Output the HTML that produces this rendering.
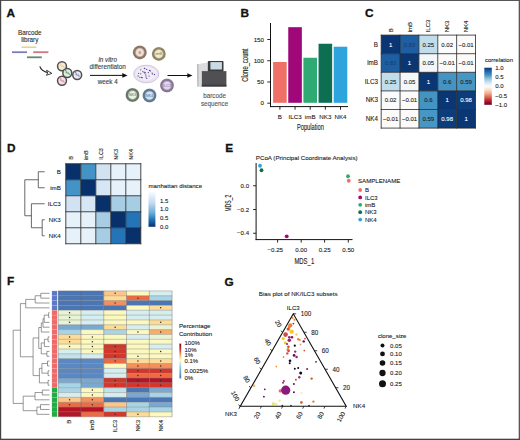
<!DOCTYPE html>
<html><head><meta charset="utf-8"><style>
html,body{margin:0;padding:0;background:#fff;}
svg{display:block;}
text{font-family:"Liberation Sans", sans-serif;}
</style></head><body>
<svg width="520" height="440" viewBox="0 0 520 440">
<rect x="0" y="0" width="520" height="1" fill="#555"/>
<rect x="0" y="0" width="1.2" height="440" fill="#444"/>
<rect x="518.7" y="0" width="1.3" height="440" fill="#555"/>
<rect x="0" y="438.7" width="520" height="1.3" fill="#444"/>
<text x="6.6" y="16.6" font-size="11.8" text-anchor="start" fill="#111" font-weight="bold" stroke="#111" stroke-width="0.3">A</text>
<text x="240.6" y="16.8" font-size="11.8" text-anchor="start" fill="#111" font-weight="bold" stroke="#111" stroke-width="0.3">B</text>
<text x="364.9" y="16.5" font-size="11.8" text-anchor="start" fill="#111" font-weight="bold" stroke="#111" stroke-width="0.3">C</text>
<text x="7.1" y="152.3" font-size="11.8" text-anchor="start" fill="#111" font-weight="bold" stroke="#111" stroke-width="0.3">D</text>
<text x="225.2" y="151.6" font-size="11.8" text-anchor="start" fill="#111" font-weight="bold" stroke="#111" stroke-width="0.3">E</text>
<text x="6.9" y="284.6" font-size="11.8" text-anchor="start" fill="#111" font-weight="bold" stroke="#111" stroke-width="0.3">F</text>
<text x="224.6" y="285.6" font-size="11.8" text-anchor="start" fill="#111" font-weight="bold" stroke="#111" stroke-width="0.3">G</text>
<text x="29.8" y="34.5" font-size="6.3" text-anchor="middle" fill="#2a2a2a" stroke="#2a2a2a" stroke-width="0.1">Barcode</text>
<text x="29.8" y="41.9" font-size="6.3" text-anchor="middle" fill="#2a2a2a" stroke="#2a2a2a" stroke-width="0.1">library</text>
<line x1="21.5" y1="47.2" x2="36.3" y2="47.2" stroke="#E6CF7E" stroke-width="1.4"/>
<line x1="12" y1="52.2" x2="27" y2="52.2" stroke="#7B7FB5" stroke-width="1.8"/>
<line x1="33.2" y1="52.2" x2="48.4" y2="52.2" stroke="#D4737E" stroke-width="1.8"/>
<line x1="27" y1="57.3" x2="41.8" y2="57.3" stroke="#5F8A6C" stroke-width="1.8"/>
<path d="M39.8 66.3 C40.8 69.6 43.2 71.6 48.2 72.6" fill="none" stroke="#222" stroke-width="1.15"/>
<path d="M46.6 70.2 L51.9 73.4 L46.4 75.3 L47.6 73.0 Z" fill="#f4f4f4" stroke="#222" stroke-width="0.85" stroke-linejoin="round"/>
<circle cx="62" cy="66.2" r="4.45" fill="#F4EBD2" stroke="#4f4f4f" stroke-width="1.5"/><path d="M59.6 63.6 c0.8 -0.6 1.6 0.4 1.3 1.4 s0.6 1.8 1.6 1.2 s1.4 0.8 1.6 1.8" fill="none" stroke="#E2C266" stroke-width="0.75"/>
<circle cx="62" cy="80.8" r="4.45" fill="#F5E0E4" stroke="#4f4f4f" stroke-width="1.5"/><path d="M59.6 78.2 c0.8 -0.6 1.6 0.4 1.3 1.4 s0.6 1.8 1.6 1.2 s1.4 0.8 1.6 1.8" fill="none" stroke="#C85A6E" stroke-width="0.75"/>
<circle cx="77.2" cy="75" r="4.45" fill="#E8E9F5" stroke="#4f4f4f" stroke-width="1.5"/><path d="M74.8 72.4 c0.8 -0.6 1.6 0.4 1.3 1.4 s0.6 1.8 1.6 1.2 s1.4 0.8 1.6 1.8" fill="none" stroke="#4a4f88" stroke-width="0.75"/>
<circle cx="67.3" cy="73" r="4.45" fill="#DCEEDF" stroke="#4f4f4f" stroke-width="1.5"/><path d="M64.9 70.4 c0.8 -0.6 1.6 0.4 1.3 1.4 s0.6 1.8 1.6 1.2 s1.4 0.8 1.6 1.8" fill="none" stroke="#2f5a40" stroke-width="0.75"/>
<text x="107.7" y="62" font-size="6.3" text-anchor="middle" fill="#3a3a3a" stroke="#3a3a3a" stroke-width="0.1" font-style="italic">in vitro</text>
<text x="107.7" y="69.3" font-size="6.3" text-anchor="middle" fill="#3a3a3a" stroke="#3a3a3a" stroke-width="0.1">differentiaton</text>
<line x1="90" y1="75.4" x2="124" y2="75.4" stroke="#111" stroke-width="1"/>
<path d="M127.5 75.4 L122.3 73.1 L122.3 77.7 Z" fill="#111"/>
<text x="107.7" y="83.6" font-size="6.3" text-anchor="middle" fill="#3a3a3a" stroke="#3a3a3a" stroke-width="0.1">week 4</text>
<ellipse cx="146.3" cy="74" rx="12.6" ry="8.8" fill="#E9E3F1" stroke="#CFC6DE" stroke-width="1"/>
<ellipse cx="146.3" cy="73.6" rx="10.5" ry="7" fill="#F1EDF7" />
<circle cx="146.8" cy="78.4" r="0.65" fill="#5a4a92"/>
<circle cx="141.5" cy="77.4" r="0.65" fill="#5a4a92"/>
<circle cx="144.7" cy="72.9" r="0.65" fill="#5a4a92"/>
<circle cx="154.5" cy="74.5" r="0.65" fill="#5a4a92"/>
<circle cx="146.0" cy="76.9" r="0.65" fill="#5a4a92"/>
<circle cx="152.5" cy="73.9" r="0.65" fill="#5a4a92"/>
<circle cx="149.5" cy="70.5" r="0.65" fill="#5a4a92"/>
<circle cx="144.1" cy="72.2" r="0.65" fill="#5a4a92"/>
<circle cx="140.7" cy="69.8" r="0.65" fill="#5a4a92"/>
<circle cx="138.6" cy="73.3" r="0.65" fill="#5a4a92"/>
<circle cx="145.2" cy="72.7" r="0.65" fill="#5a4a92"/>
<circle cx="146.7" cy="69.4" r="0.65" fill="#5a4a92"/>
<circle cx="145.8" cy="75.0" r="0.65" fill="#5a4a92"/>
<circle cx="150.4" cy="70.9" r="0.65" fill="#5a4a92"/>
<circle cx="144.7" cy="68.5" r="0.65" fill="#5a4a92"/>
<circle cx="144.4" cy="68.4" r="0.65" fill="#5a4a92"/>
<circle cx="139.9" cy="77.3" r="0.65" fill="#5a4a92"/>
<circle cx="138.1" cy="76.0" r="0.65" fill="#5a4a92"/>
<circle cx="148.3" cy="72.7" r="0.65" fill="#5a4a92"/>
<circle cx="149.1" cy="76.1" r="0.65" fill="#5a4a92"/>
<circle cx="152.1" cy="73.1" r="0.65" fill="#5a4a92"/>
<circle cx="142.8" cy="71.6" r="0.65" fill="#5a4a92"/>
<circle cx="140.7" cy="73.8" r="0.65" fill="#5a4a92"/>
<circle cx="142.2" cy="77.7" r="0.65" fill="#5a4a92"/>
<radialGradient id="g1"><stop offset="0" stop-color="#F2DDD2"/><stop offset="0.5" stop-color="#F2DDD2"/><stop offset="0.72" stop-color="#8a7668"/><stop offset="0.9" stop-color="#8a7668"/><stop offset="1" stop-color="#8a7668" stop-opacity="0.7"/></radialGradient><circle cx="139.8" cy="52.4" r="7.0" fill="url(#g1)"/><text x="139.8" y="53.8" font-size="3.8" text-anchor="middle" fill="#8a6858">B</text>
<radialGradient id="g2"><stop offset="0" stop-color="#F1E9D0"/><stop offset="0.5" stop-color="#F1E9D0"/><stop offset="0.72" stop-color="#908562"/><stop offset="0.9" stop-color="#908562"/><stop offset="1" stop-color="#908562" stop-opacity="0.7"/></radialGradient><circle cx="158.8" cy="53.9" r="7.0" fill="url(#g2)"/><text x="158.8" y="55.3" font-size="3.8" text-anchor="middle" fill="#807040">imB</text>
<radialGradient id="g3"><stop offset="0" stop-color="#E2D4EC"/><stop offset="0.5" stop-color="#E2D4EC"/><stop offset="0.72" stop-color="#857896"/><stop offset="0.9" stop-color="#857896"/><stop offset="1" stop-color="#857896" stop-opacity="0.7"/></radialGradient><circle cx="167" cy="85.5" r="7.0" fill="url(#g3)"/><text x="167" y="86.9" font-size="3.8" text-anchor="middle" fill="#7a6892">ILC3</text>
<radialGradient id="g4"><stop offset="0" stop-color="#E8F2E0"/><stop offset="0.5" stop-color="#E8F2E0"/><stop offset="0.72" stop-color="#6a786a"/><stop offset="0.9" stop-color="#6a786a"/><stop offset="1" stop-color="#6a786a" stop-opacity="0.7"/></radialGradient><circle cx="132.5" cy="95" r="7.0" fill="url(#g4)"/><text x="132.5" y="96.4" font-size="3.8" text-anchor="middle" fill="#5a6a5a">NK3</text>
<radialGradient id="g5"><stop offset="0" stop-color="#D2E2F0"/><stop offset="0.5" stop-color="#D2E2F0"/><stop offset="0.72" stop-color="#607a94"/><stop offset="0.9" stop-color="#607a94"/><stop offset="1" stop-color="#607a94" stop-opacity="0.7"/></radialGradient><circle cx="149.5" cy="95.5" r="7.0" fill="url(#g5)"/><text x="149.5" y="96.9" font-size="3.8" text-anchor="middle" fill="#4a6a8a">NK4</text>
<line x1="167.5" y1="75.5" x2="189" y2="75.5" stroke="#111" stroke-width="1"/>
<path d="M192.5 75.5 L187.3 73.2 L187.3 77.8 Z" fill="#111"/>
<path d="M196.9 64.2 L207.5 62.6 L208 71.2 L201.8 71.5 L201.8 87.2 L197.2 86.4 Z" fill="#DCDCDE"/>
<path d="M196.9 64.2 L198.6 64.0 L198.8 86.6 L197.2 86.4 Z" fill="#BDBEC0"/>
<rect x="201.8" y="71.1" width="24.6" height="15.4" fill="#505054"/>
<rect x="201.8" y="84.6" width="24.6" height="1.9" fill="#3c3c40"/>
<rect x="207.8" y="60.9" width="15.7" height="10.6" rx="0.8" fill="#3C3C40"/>
<rect x="210.4" y="62.1" width="11.5" height="7.4" fill="#C9DCE3"/>
<text x="214.6" y="98" font-size="6.3" text-anchor="middle" fill="#555" stroke="#555" stroke-width="0.1">barcode</text>
<text x="214.6" y="105.5" font-size="6.3" text-anchor="middle" fill="#555" stroke="#555" stroke-width="0.1">sequence</text>
<line x1="270.5" y1="23" x2="270.5" y2="107.1" stroke="#111" stroke-width="1"/>
<line x1="270" y1="106.6" x2="348" y2="106.6" stroke="#111" stroke-width="1"/>
<line x1="267.3" y1="103.20" x2="270.5" y2="103.20" stroke="#111" stroke-width="0.9"/>
<text x="264" y="105.3" font-size="6.2" text-anchor="end" fill="#222" stroke="#222" stroke-width="0.1">0</text>
<line x1="267.3" y1="81.97" x2="270.5" y2="81.97" stroke="#111" stroke-width="0.9"/>
<text x="264" y="84.07" font-size="6.2" text-anchor="end" fill="#222" stroke="#222" stroke-width="0.1">50</text>
<line x1="267.3" y1="60.73" x2="270.5" y2="60.73" stroke="#111" stroke-width="0.9"/>
<text x="264" y="62.83" font-size="6.2" text-anchor="end" fill="#222" stroke="#222" stroke-width="0.1">100</text>
<line x1="267.3" y1="39.50" x2="270.5" y2="39.50" stroke="#111" stroke-width="0.9"/>
<text x="264" y="41.6" font-size="6.2" text-anchor="end" fill="#222" stroke="#222" stroke-width="0.1">150</text>
<rect x="273.10" y="62.01" width="13.6" height="40.79" fill="#EE7066"/>
<line x1="279.90" y1="106.6" x2="279.90" y2="109.7" stroke="#111" stroke-width="0.9"/>
<text x="279.9" y="118.5" font-size="6.2" text-anchor="middle" fill="#222" stroke="#222" stroke-width="0.1">B</text>
<rect x="288.25" y="27.18" width="13.6" height="75.62" fill="#A0087A"/>
<line x1="295.05" y1="106.6" x2="295.05" y2="109.7" stroke="#111" stroke-width="0.9"/>
<text x="295.05" y="118.5" font-size="6.2" text-anchor="middle" fill="#222" stroke="#222" stroke-width="0.1">ILC3</text>
<rect x="303.40" y="57.76" width="13.6" height="45.04" fill="#2EAA72"/>
<line x1="310.20" y1="106.6" x2="310.20" y2="109.7" stroke="#111" stroke-width="0.9"/>
<text x="310.2" y="118.5" font-size="6.2" text-anchor="middle" fill="#222" stroke="#222" stroke-width="0.1">imB</text>
<rect x="318.55" y="43.75" width="13.6" height="59.05" fill="#0E6E52"/>
<line x1="325.35" y1="106.6" x2="325.35" y2="109.7" stroke="#111" stroke-width="0.9"/>
<text x="325.35" y="118.5" font-size="6.2" text-anchor="middle" fill="#222" stroke="#222" stroke-width="0.1">NK3</text>
<rect x="333.70" y="46.72" width="13.6" height="56.08" fill="#2EA4DE"/>
<line x1="340.50" y1="106.6" x2="340.50" y2="109.7" stroke="#111" stroke-width="0.9"/>
<text x="340.5" y="118.5" font-size="6.2" text-anchor="middle" fill="#222" stroke="#222" stroke-width="0.1">NK4</text>
<text x="310.4" y="130.0" font-size="8.4" text-anchor="middle" fill="#222" textLength="26.9" stroke="#222" stroke-width="0.12" lengthAdjust="spacingAndGlyphs">Population</text>
<text x="247.8" y="65.2" font-size="8.4" text-anchor="middle" fill="#222" transform="rotate(-90 247.8 65.2)" textLength="33" stroke="#222" stroke-width="0.12" lengthAdjust="spacingAndGlyphs">Clone_count</text>
<rect x="381.20" y="35.10" width="18.86" height="18.60" fill="#0a3773"/>
<text x="390.63" y="46.5" font-size="6" text-anchor="middle" fill="#fff" stroke="#fff" stroke-width="0.1">1</text>
<rect x="400.06" y="35.10" width="18.86" height="18.60" fill="#1e5fa3"/>
<text x="409.49" y="46.5" font-size="6" text-anchor="middle" fill="#1d3f72" stroke="#1d3f72" stroke-width="0.1">0.83</text>
<rect x="418.92" y="35.10" width="18.86" height="18.60" fill="#c1ddec"/>
<text x="428.35" y="46.5" font-size="6" text-anchor="middle" fill="#222" stroke="#222" stroke-width="0.1">0.25</text>
<rect x="437.78" y="35.10" width="18.86" height="18.60" fill="#f9fbfc"/>
<text x="447.21" y="46.5" font-size="6" text-anchor="middle" fill="#222" stroke="#222" stroke-width="0.1">0.02</text>
<rect x="456.64" y="35.10" width="18.86" height="18.60" fill="#fdfbfa"/>
<text x="466.07" y="46.5" font-size="6" text-anchor="middle" fill="#222" stroke="#222" stroke-width="0.1">&#8722;0.01</text>
<rect x="381.20" y="53.70" width="18.86" height="18.60" fill="#1e5fa3"/>
<text x="390.63" y="65.1" font-size="6" text-anchor="middle" fill="#1d3f72" stroke="#1d3f72" stroke-width="0.1">0.83</text>
<rect x="400.06" y="53.70" width="18.86" height="18.60" fill="#0a3773"/>
<text x="409.49" y="65.1" font-size="6" text-anchor="middle" fill="#fff" stroke="#fff" stroke-width="0.1">1</text>
<rect x="418.92" y="53.70" width="18.86" height="18.60" fill="#f2f7fa"/>
<text x="428.35" y="65.1" font-size="6" text-anchor="middle" fill="#222" stroke="#222" stroke-width="0.1">0.05</text>
<rect x="437.78" y="53.70" width="18.86" height="18.60" fill="#fdfbfa"/>
<text x="447.21" y="65.1" font-size="6" text-anchor="middle" fill="#222" stroke="#222" stroke-width="0.1">&#8722;0.01</text>
<rect x="456.64" y="53.70" width="18.86" height="18.60" fill="#fdfbfa"/>
<text x="466.07" y="65.1" font-size="6" text-anchor="middle" fill="#222" stroke="#222" stroke-width="0.1">&#8722;0.01</text>
<rect x="381.20" y="72.30" width="18.86" height="18.60" fill="#c1ddec"/>
<text x="390.63" y="83.7" font-size="6" text-anchor="middle" fill="#222" stroke="#222" stroke-width="0.1">0.25</text>
<rect x="400.06" y="72.30" width="18.86" height="18.60" fill="#f2f7fa"/>
<text x="409.49" y="83.7" font-size="6" text-anchor="middle" fill="#222" stroke="#222" stroke-width="0.1">0.05</text>
<rect x="418.92" y="72.30" width="18.86" height="18.60" fill="#0a3773"/>
<text x="428.35" y="83.7" font-size="6" text-anchor="middle" fill="#fff" stroke="#fff" stroke-width="0.1">1</text>
<rect x="437.78" y="72.30" width="18.86" height="18.60" fill="#4393c3"/>
<text x="447.21" y="83.7" font-size="6" text-anchor="middle" fill="#222" stroke="#222" stroke-width="0.1">0.6</text>
<rect x="456.64" y="72.30" width="18.86" height="18.60" fill="#4796c4"/>
<text x="466.07" y="83.7" font-size="6" text-anchor="middle" fill="#222" stroke="#222" stroke-width="0.1">0.59</text>
<rect x="381.20" y="90.90" width="18.86" height="18.60" fill="#f9fbfc"/>
<text x="390.63" y="102.3" font-size="6" text-anchor="middle" fill="#222" stroke="#222" stroke-width="0.1">0.02</text>
<rect x="400.06" y="90.90" width="18.86" height="18.60" fill="#fdfbfa"/>
<text x="409.49" y="102.3" font-size="6" text-anchor="middle" fill="#222" stroke="#222" stroke-width="0.1">&#8722;0.01</text>
<rect x="418.92" y="90.90" width="18.86" height="18.60" fill="#4393c3"/>
<text x="428.35" y="102.3" font-size="6" text-anchor="middle" fill="#222" stroke="#222" stroke-width="0.1">0.6</text>
<rect x="437.78" y="90.90" width="18.86" height="18.60" fill="#0a3773"/>
<text x="447.21" y="102.3" font-size="6" text-anchor="middle" fill="#fff" stroke="#fff" stroke-width="0.1">1</text>
<rect x="456.64" y="90.90" width="18.86" height="18.60" fill="#0c3c79"/>
<text x="466.07" y="102.3" font-size="6" text-anchor="middle" fill="#fff" stroke="#fff" stroke-width="0.1">0.98</text>
<rect x="381.20" y="109.50" width="18.86" height="18.60" fill="#fdfbfa"/>
<text x="390.63" y="120.9" font-size="6" text-anchor="middle" fill="#222" stroke="#222" stroke-width="0.1">&#8722;0.01</text>
<rect x="400.06" y="109.50" width="18.86" height="18.60" fill="#fdfbfa"/>
<text x="409.49" y="120.9" font-size="6" text-anchor="middle" fill="#222" stroke="#222" stroke-width="0.1">&#8722;0.01</text>
<rect x="418.92" y="109.50" width="18.86" height="18.60" fill="#4796c4"/>
<text x="428.35" y="120.9" font-size="6" text-anchor="middle" fill="#222" stroke="#222" stroke-width="0.1">0.59</text>
<rect x="437.78" y="109.50" width="18.86" height="18.60" fill="#0c3c79"/>
<text x="447.21" y="120.9" font-size="6" text-anchor="middle" fill="#fff" stroke="#fff" stroke-width="0.1">0.98</text>
<rect x="456.64" y="109.50" width="18.86" height="18.60" fill="#0a3773"/>
<text x="466.07" y="120.9" font-size="6" text-anchor="middle" fill="#fff" stroke="#fff" stroke-width="0.1">1</text>
<line x1="381.20" y1="34.7" x2="381.20" y2="128.50" stroke="#262626" stroke-width="0.8"/>
<line x1="380.8" y1="35.10" x2="475.90" y2="35.10" stroke="#262626" stroke-width="0.8"/>
<line x1="400.06" y1="34.7" x2="400.06" y2="128.50" stroke="#262626" stroke-width="0.8"/>
<line x1="380.8" y1="53.70" x2="475.90" y2="53.70" stroke="#262626" stroke-width="0.8"/>
<line x1="418.92" y1="34.7" x2="418.92" y2="128.50" stroke="#262626" stroke-width="0.8"/>
<line x1="380.8" y1="72.30" x2="475.90" y2="72.30" stroke="#262626" stroke-width="0.8"/>
<line x1="437.78" y1="34.7" x2="437.78" y2="128.50" stroke="#262626" stroke-width="0.8"/>
<line x1="380.8" y1="90.90" x2="475.90" y2="90.90" stroke="#262626" stroke-width="0.8"/>
<line x1="456.64" y1="34.7" x2="456.64" y2="128.50" stroke="#262626" stroke-width="0.8"/>
<line x1="380.8" y1="109.50" x2="475.90" y2="109.50" stroke="#262626" stroke-width="0.8"/>
<line x1="475.50" y1="34.7" x2="475.50" y2="128.50" stroke="#262626" stroke-width="0.8"/>
<line x1="380.8" y1="128.10" x2="475.90" y2="128.10" stroke="#262626" stroke-width="0.8"/>
<text x="378.0" y="46.6" font-size="6.3" text-anchor="end" fill="#222" stroke="#222" stroke-width="0.1">B</text>
<text x="392.73" y="32.3" font-size="6" text-anchor="start" fill="#222" stroke="#222" stroke-width="0.1" transform="rotate(-90 392.73 32.3)">B</text>
<text x="378.0" y="65.2" font-size="6.3" text-anchor="end" fill="#222" stroke="#222" stroke-width="0.1">imB</text>
<text x="411.59" y="32.3" font-size="6" text-anchor="start" fill="#222" stroke="#222" stroke-width="0.1" transform="rotate(-90 411.59 32.3)">imB</text>
<text x="378.0" y="83.8" font-size="6.3" text-anchor="end" fill="#222" stroke="#222" stroke-width="0.1">ILC3</text>
<text x="430.45" y="32.3" font-size="6" text-anchor="start" fill="#222" stroke="#222" stroke-width="0.1" transform="rotate(-90 430.45 32.3)">ILC3</text>
<text x="378.0" y="102.4" font-size="6.3" text-anchor="end" fill="#222" stroke="#222" stroke-width="0.1">NK3</text>
<text x="449.31" y="32.3" font-size="6" text-anchor="start" fill="#222" stroke="#222" stroke-width="0.1" transform="rotate(-90 449.31 32.3)">NK3</text>
<text x="378.0" y="121.0" font-size="6.3" text-anchor="end" fill="#222" stroke="#222" stroke-width="0.1">NK4</text>
<text x="468.17" y="32.3" font-size="6" text-anchor="start" fill="#222" stroke="#222" stroke-width="0.1" transform="rotate(-90 468.17 32.3)">NK4</text>
<text x="485" y="61.8" font-size="6" text-anchor="start" fill="#222" stroke="#222" stroke-width="0.1">correlation</text>
<defs><linearGradient id="gC" x1="0" y1="0" x2="0" y2="1"><stop offset="0.00" stop-color="#0a3773"/><stop offset="0.10" stop-color="#2166ac"/><stop offset="0.20" stop-color="#4393c3"/><stop offset="0.30" stop-color="#92c5de"/><stop offset="0.40" stop-color="#d1e5f0"/><stop offset="0.50" stop-color="#fdfdfd"/><stop offset="0.60" stop-color="#fddbc7"/><stop offset="0.70" stop-color="#f4a582"/><stop offset="0.80" stop-color="#d6604d"/><stop offset="0.90" stop-color="#b2182b"/><stop offset="1.00" stop-color="#67001f"/></linearGradient><linearGradient id="gD" x1="0" y1="0" x2="0" y2="1"><stop offset="0" stop-color="#f7fbff"/><stop offset="0.3" stop-color="#c6dbef"/><stop offset="0.6" stop-color="#6baed6"/><stop offset="0.8" stop-color="#2171b5"/><stop offset="1" stop-color="#08306b"/></linearGradient><linearGradient id="gF" x1="0" y1="0" x2="0" y2="1"><stop offset="0" stop-color="#800020"/><stop offset="0.18" stop-color="#d73027"/><stop offset="0.33" stop-color="#fdae61"/><stop offset="0.48" stop-color="#ffffbf"/><stop offset="0.62" stop-color="#abd9e9"/><stop offset="0.8" stop-color="#74add1"/><stop offset="1" stop-color="#4575b4"/></linearGradient></defs>
<rect x="484.3" y="67.7" width="7.5" height="37.1" fill="url(#gC)"/>
<text x="495.2" y="69.8" font-size="6" text-anchor="start" fill="#222" stroke="#222" stroke-width="0.1">1.0</text>
<text x="495.2" y="79.0" font-size="6" text-anchor="start" fill="#222" stroke="#222" stroke-width="0.1">0.5</text>
<text x="495.2" y="88.3" font-size="6" text-anchor="start" fill="#222" stroke="#222" stroke-width="0.1">0.0</text>
<text x="495.2" y="97.5" font-size="6" text-anchor="start" fill="#222" stroke="#222" stroke-width="0.1">&#8722;0.5</text>
<text x="495.2" y="106.8" font-size="6" text-anchor="start" fill="#222" stroke="#222" stroke-width="0.1">&#8722;1.0</text>
<rect x="65.80" y="163.75" width="15" height="16" fill="#08306b"/>
<rect x="80.80" y="163.75" width="15" height="16" fill="#4393c6"/>
<rect x="95.80" y="163.75" width="15" height="16" fill="#d1e2f3"/>
<rect x="110.80" y="163.75" width="15" height="16" fill="#e7f1fa"/>
<rect x="125.80" y="163.75" width="15" height="16" fill="#e7f1fa"/>
<rect x="65.80" y="179.75" width="15" height="16" fill="#4393c6"/>
<rect x="80.80" y="179.75" width="15" height="16" fill="#08306b"/>
<rect x="95.80" y="179.75" width="15" height="16" fill="#d6e6f4"/>
<rect x="110.80" y="179.75" width="15" height="16" fill="#e7f1fa"/>
<rect x="125.80" y="179.75" width="15" height="16" fill="#e7f1fa"/>
<rect x="65.80" y="195.75" width="15" height="16" fill="#d1e2f3"/>
<rect x="80.80" y="195.75" width="15" height="16" fill="#d6e6f4"/>
<rect x="95.80" y="195.75" width="15" height="16" fill="#08306b"/>
<rect x="110.80" y="195.75" width="15" height="16" fill="#a6cde4"/>
<rect x="125.80" y="195.75" width="15" height="16" fill="#a6cde4"/>
<rect x="65.80" y="211.75" width="15" height="16" fill="#e7f1fa"/>
<rect x="80.80" y="211.75" width="15" height="16" fill="#e7f1fa"/>
<rect x="95.80" y="211.75" width="15" height="16" fill="#a6cde4"/>
<rect x="110.80" y="211.75" width="15" height="16" fill="#08306b"/>
<rect x="125.80" y="211.75" width="15" height="16" fill="#2474b7"/>
<rect x="65.80" y="227.75" width="15" height="16" fill="#e7f1fa"/>
<rect x="80.80" y="227.75" width="15" height="16" fill="#e7f1fa"/>
<rect x="95.80" y="227.75" width="15" height="16" fill="#a6cde4"/>
<rect x="110.80" y="227.75" width="15" height="16" fill="#2474b7"/>
<rect x="125.80" y="227.75" width="15" height="16" fill="#08306b"/>
<line x1="65.80" y1="163.3" x2="65.80" y2="244.20" stroke="#333" stroke-width="0.9"/>
<line x1="65.35" y1="163.75" x2="141.25" y2="163.75" stroke="#333" stroke-width="0.9"/>
<line x1="80.80" y1="163.3" x2="80.80" y2="244.20" stroke="#333" stroke-width="0.9"/>
<line x1="65.35" y1="179.75" x2="141.25" y2="179.75" stroke="#333" stroke-width="0.9"/>
<line x1="95.80" y1="163.3" x2="95.80" y2="244.20" stroke="#333" stroke-width="0.9"/>
<line x1="65.35" y1="195.75" x2="141.25" y2="195.75" stroke="#333" stroke-width="0.9"/>
<line x1="110.80" y1="163.3" x2="110.80" y2="244.20" stroke="#333" stroke-width="0.9"/>
<line x1="65.35" y1="211.75" x2="141.25" y2="211.75" stroke="#333" stroke-width="0.9"/>
<line x1="125.80" y1="163.3" x2="125.80" y2="244.20" stroke="#333" stroke-width="0.9"/>
<line x1="65.35" y1="227.75" x2="141.25" y2="227.75" stroke="#333" stroke-width="0.9"/>
<line x1="140.80" y1="163.3" x2="140.80" y2="244.20" stroke="#333" stroke-width="0.9"/>
<line x1="65.35" y1="243.75" x2="141.25" y2="243.75" stroke="#333" stroke-width="0.9"/>
<text x="60.8" y="173.95" font-size="6.2" text-anchor="end" fill="#222" stroke="#222" stroke-width="0.1">B</text>
<text x="73.5" y="159.7" font-size="5.5" text-anchor="start" fill="#222" stroke="#222" stroke-width="0.1" transform="rotate(-90 73.5 159.7)">B</text>
<text x="60.8" y="189.95" font-size="6.2" text-anchor="end" fill="#222" stroke="#222" stroke-width="0.1">imB</text>
<text x="88.5" y="159.7" font-size="5.5" text-anchor="start" fill="#222" stroke="#222" stroke-width="0.1" transform="rotate(-90 88.5 159.7)">imB</text>
<text x="60.8" y="205.95" font-size="6.2" text-anchor="end" fill="#222" stroke="#222" stroke-width="0.1">ILC3</text>
<text x="103.5" y="159.7" font-size="5.5" text-anchor="start" fill="#222" stroke="#222" stroke-width="0.1" transform="rotate(-90 103.5 159.7)">ILC3</text>
<text x="60.8" y="221.95" font-size="6.2" text-anchor="end" fill="#222" stroke="#222" stroke-width="0.1">NK3</text>
<text x="118.5" y="159.7" font-size="5.5" text-anchor="start" fill="#222" stroke="#222" stroke-width="0.1" transform="rotate(-90 118.5 159.7)">NK3</text>
<text x="60.8" y="237.95" font-size="6.2" text-anchor="end" fill="#222" stroke="#222" stroke-width="0.1">NK4</text>
<text x="133.5" y="159.7" font-size="5.5" text-anchor="start" fill="#222" stroke="#222" stroke-width="0.1" transform="rotate(-90 133.5 159.7)">NK4</text>
<path d="M38.3 171.75L44.7 171.75 M38.3 187.75L44.7 187.75 M38.3 171.75L38.3 187.75 M24.8 179.75L38.3 179.75 M31.4 203.75L44.7 203.75 M42.2 219.75L44.7 219.75 M42.2 235.75L44.7 235.75 M42.2 219.75L42.2 235.75 M31.4 227.75L42.2 227.75 M31.4 203.75L31.4 227.75 M24.8 215.75L31.4 215.75 M24.8 179.75L24.8 215.75" stroke="#444" stroke-width="0.8" fill="none"/>
<text x="148.5" y="187.8" font-size="6.15" text-anchor="start" fill="#222" stroke="#222" stroke-width="0.1">manhattan distance</text>
<rect x="148.5" y="192" width="6.9" height="34.8" fill="url(#gD)"/>
<text x="160" y="202.5" font-size="6" text-anchor="start" fill="#222" stroke="#222" stroke-width="0.1">1.5</text>
<text x="160" y="211.29999999999998" font-size="6" text-anchor="start" fill="#222" stroke="#222" stroke-width="0.1">1.0</text>
<text x="160" y="220.0" font-size="6" text-anchor="start" fill="#222" stroke="#222" stroke-width="0.1">0.5</text>
<text x="160" y="228.9" font-size="6" text-anchor="start" fill="#222" stroke="#222" stroke-width="0.1">0.0</text>
<line x1="256.1" y1="163" x2="256.1" y2="240.1" stroke="#111" stroke-width="1"/>
<line x1="255.6" y1="239.6" x2="352.5" y2="239.6" stroke="#111" stroke-width="1"/>
<line x1="253.1" y1="185.75" x2="256.1" y2="185.75" stroke="#111" stroke-width="0.9"/>
<text x="249.1" y="187.85" font-size="6.1" text-anchor="end" fill="#222" stroke="#222" stroke-width="0.1">0.0</text>
<line x1="253.1" y1="209.5" x2="256.1" y2="209.5" stroke="#111" stroke-width="0.9"/>
<text x="249.1" y="211.6" font-size="6.1" text-anchor="end" fill="#222" stroke="#222" stroke-width="0.1">&#8722;0.2</text>
<line x1="253.1" y1="233.25" x2="256.1" y2="233.25" stroke="#111" stroke-width="0.9"/>
<text x="249.1" y="235.35" font-size="6.1" text-anchor="end" fill="#222" stroke="#222" stroke-width="0.1">&#8722;0.4</text>
<line x1="277.6" y1="239.6" x2="277.6" y2="242.6" stroke="#111" stroke-width="0.9"/>
<text x="275.2" y="251.8" font-size="6.1" text-anchor="middle" fill="#222" stroke="#222" stroke-width="0.1">&#8722;0.25</text>
<line x1="301.2" y1="239.6" x2="301.2" y2="242.6" stroke="#111" stroke-width="0.9"/>
<text x="301.2" y="251.8" font-size="6.1" text-anchor="middle" fill="#222" stroke="#222" stroke-width="0.1">0.00</text>
<line x1="324.6" y1="239.6" x2="324.6" y2="242.6" stroke="#111" stroke-width="0.9"/>
<text x="324.6" y="251.8" font-size="6.1" text-anchor="middle" fill="#222" stroke="#222" stroke-width="0.1">0.25</text>
<line x1="348.3" y1="239.6" x2="348.3" y2="242.6" stroke="#111" stroke-width="0.9"/>
<text x="348.3" y="251.8" font-size="6.1" text-anchor="middle" fill="#222" stroke="#222" stroke-width="0.1">0.50</text>
<text x="304.3" y="263.8" font-size="8.4" text-anchor="middle" fill="#222" textLength="19.8" stroke="#222" stroke-width="0.12" lengthAdjust="spacingAndGlyphs">MDS_1</text>
<text x="231.4" y="203.2" font-size="8.4" text-anchor="middle" fill="#222" transform="rotate(-90 231.4 203.2)" textLength="16.8" stroke="#222" stroke-width="0.12" lengthAdjust="spacingAndGlyphs">MDS_2</text>
<text x="255.8" y="159.6" font-size="6.2" text-anchor="start" fill="#222" stroke="#222" stroke-width="0.1">PCoA (Principal Coordinate Analysis)</text>
<circle cx="260" cy="165.75" r="1.9" fill="#2EA4DE"/>
<circle cx="261.5" cy="170.25" r="1.9" fill="#0E6E52"/>
<circle cx="286.7" cy="236.3" r="1.9" fill="#A0087A"/>
<circle cx="348" cy="176.25" r="1.9" fill="#2EAA72"/>
<circle cx="348.75" cy="180.75" r="1.9" fill="#EE7066"/>
<text x="358" y="182.6" font-size="6.1" text-anchor="start" fill="#222" stroke="#222" stroke-width="0.1">SAMPLENAME</text>
<circle cx="360.2" cy="190.00" r="1.9" fill="#EE7066"/>
<text x="365" y="192.1" font-size="6" text-anchor="start" fill="#222" stroke="#222" stroke-width="0.1">B</text>
<circle cx="360.2" cy="197.40" r="1.9" fill="#A0087A"/>
<text x="365" y="199.5" font-size="6" text-anchor="start" fill="#222" stroke="#222" stroke-width="0.1">ILC3</text>
<circle cx="360.2" cy="204.80" r="1.9" fill="#2EAA72"/>
<text x="365" y="206.9" font-size="6" text-anchor="start" fill="#222" stroke="#222" stroke-width="0.1">imB</text>
<circle cx="360.2" cy="212.20" r="1.9" fill="#0E6E52"/>
<text x="365" y="214.3" font-size="6" text-anchor="start" fill="#222" stroke="#222" stroke-width="0.1">NK3</text>
<circle cx="360.2" cy="219.60" r="1.9" fill="#2EA4DE"/>
<text x="365" y="221.7" font-size="6" text-anchor="start" fill="#222" stroke="#222" stroke-width="0.1">NK4</text>
<rect x="58.20" y="290.90" width="22.78" height="4.84" fill="#4a76b6"/>
<rect x="80.98" y="290.90" width="22.78" height="4.84" fill="#4a76b6"/>
<rect x="103.76" y="290.90" width="22.78" height="4.84" fill="#fbc688"/>
<rect x="126.54" y="290.90" width="22.78" height="4.84" fill="#fbf8c0"/>
<rect x="149.32" y="290.90" width="22.78" height="4.84" fill="#d7eef0"/>
<rect x="58.20" y="295.74" width="22.78" height="4.84" fill="#4a76b6"/>
<rect x="80.98" y="295.74" width="22.78" height="4.84" fill="#4a76b6"/>
<rect x="103.76" y="295.74" width="22.78" height="4.84" fill="#fddc98"/>
<rect x="126.54" y="295.74" width="22.78" height="4.84" fill="#ee6a45"/>
<rect x="149.32" y="295.74" width="22.78" height="4.84" fill="#a9d4e6"/>
<rect x="58.20" y="300.58" width="22.78" height="4.84" fill="#4a76b6"/>
<rect x="80.98" y="300.58" width="22.78" height="4.84" fill="#4a76b6"/>
<rect x="103.76" y="300.58" width="22.78" height="4.84" fill="#f3905e"/>
<rect x="126.54" y="300.58" width="22.78" height="4.84" fill="#4a76b6"/>
<rect x="149.32" y="300.58" width="22.78" height="4.84" fill="#4a76b6"/>
<rect x="58.20" y="305.42" width="22.78" height="4.84" fill="#4a76b6"/>
<rect x="80.98" y="305.42" width="22.78" height="4.84" fill="#4a76b6"/>
<rect x="103.76" y="305.42" width="22.78" height="4.84" fill="#4a76b6"/>
<rect x="126.54" y="305.42" width="22.78" height="4.84" fill="#fbf8c0"/>
<rect x="149.32" y="305.42" width="22.78" height="4.84" fill="#fddc98"/>
<rect x="58.20" y="310.26" width="22.78" height="4.84" fill="#e9f4d6"/>
<rect x="80.98" y="310.26" width="22.78" height="4.84" fill="#d7eef0"/>
<rect x="103.76" y="310.26" width="22.78" height="4.84" fill="#fbf8c0"/>
<rect x="126.54" y="310.26" width="22.78" height="4.84" fill="#d7eef0"/>
<rect x="149.32" y="310.26" width="22.78" height="4.84" fill="#d7eef0"/>
<rect x="58.20" y="315.10" width="22.78" height="4.84" fill="#e9f4d6"/>
<rect x="80.98" y="315.10" width="22.78" height="4.84" fill="#d7eef0"/>
<rect x="103.76" y="315.10" width="22.78" height="4.84" fill="#fbf8c0"/>
<rect x="126.54" y="315.10" width="22.78" height="4.84" fill="#d7eef0"/>
<rect x="149.32" y="315.10" width="22.78" height="4.84" fill="#d7eef0"/>
<rect x="58.20" y="319.94" width="22.78" height="4.84" fill="#e9f4d6"/>
<rect x="80.98" y="319.94" width="22.78" height="4.84" fill="#d7eef0"/>
<rect x="103.76" y="319.94" width="22.78" height="4.84" fill="#fbf8c0"/>
<rect x="126.54" y="319.94" width="22.78" height="4.84" fill="#fbf8c0"/>
<rect x="149.32" y="319.94" width="22.78" height="4.84" fill="#fddc98"/>
<rect x="58.20" y="324.78" width="22.78" height="4.84" fill="#79a9d3"/>
<rect x="80.98" y="324.78" width="22.78" height="4.84" fill="#79a9d3"/>
<rect x="103.76" y="324.78" width="22.78" height="4.84" fill="#fddc98"/>
<rect x="126.54" y="324.78" width="22.78" height="4.84" fill="#d7eef0"/>
<rect x="149.32" y="324.78" width="22.78" height="4.84" fill="#e9f4d6"/>
<rect x="58.20" y="329.62" width="22.78" height="4.84" fill="#a9d4e6"/>
<rect x="80.98" y="329.62" width="22.78" height="4.84" fill="#fbf8c0"/>
<rect x="103.76" y="329.62" width="22.78" height="4.84" fill="#a9d4e6"/>
<rect x="126.54" y="329.62" width="22.78" height="4.84" fill="#fbf8c0"/>
<rect x="149.32" y="329.62" width="22.78" height="4.84" fill="#f9ad68"/>
<rect x="58.20" y="334.46" width="22.78" height="4.84" fill="#fddc98"/>
<rect x="80.98" y="334.46" width="22.78" height="4.84" fill="#fbf8c0"/>
<rect x="103.76" y="334.46" width="22.78" height="4.84" fill="#fbf8c0"/>
<rect x="126.54" y="334.46" width="22.78" height="4.84" fill="#d7eef0"/>
<rect x="149.32" y="334.46" width="22.78" height="4.84" fill="#e9f4d6"/>
<rect x="58.20" y="339.30" width="22.78" height="4.84" fill="#fddc98"/>
<rect x="80.98" y="339.30" width="22.78" height="4.84" fill="#fbf8c0"/>
<rect x="103.76" y="339.30" width="22.78" height="4.84" fill="#fbf8c0"/>
<rect x="126.54" y="339.30" width="22.78" height="4.84" fill="#fbf8c0"/>
<rect x="149.32" y="339.30" width="22.78" height="4.84" fill="#fbf8c0"/>
<rect x="58.20" y="344.14" width="22.78" height="4.84" fill="#fbf8c0"/>
<rect x="80.98" y="344.14" width="22.78" height="4.84" fill="#fbf8c0"/>
<rect x="103.76" y="344.14" width="22.78" height="4.84" fill="#d6362a"/>
<rect x="126.54" y="344.14" width="22.78" height="4.84" fill="#fbf8c0"/>
<rect x="149.32" y="344.14" width="22.78" height="4.84" fill="#d7eef0"/>
<rect x="58.20" y="348.98" width="22.78" height="4.84" fill="#d7eef0"/>
<rect x="80.98" y="348.98" width="22.78" height="4.84" fill="#fbf8c0"/>
<rect x="103.76" y="348.98" width="22.78" height="4.84" fill="#d6362a"/>
<rect x="126.54" y="348.98" width="22.78" height="4.84" fill="#fbf8c0"/>
<rect x="149.32" y="348.98" width="22.78" height="4.84" fill="#fbf8c0"/>
<rect x="58.20" y="353.82" width="22.78" height="4.84" fill="#c2e2ec"/>
<rect x="80.98" y="353.82" width="22.78" height="4.84" fill="#d7eef0"/>
<rect x="103.76" y="353.82" width="22.78" height="4.84" fill="#d6362a"/>
<rect x="126.54" y="353.82" width="22.78" height="4.84" fill="#fbf8c0"/>
<rect x="149.32" y="353.82" width="22.78" height="4.84" fill="#fbf8c0"/>
<rect x="58.20" y="358.66" width="22.78" height="4.84" fill="#5b88c3"/>
<rect x="80.98" y="358.66" width="22.78" height="4.84" fill="#5b88c3"/>
<rect x="103.76" y="358.66" width="22.78" height="4.84" fill="#ee6a45"/>
<rect x="126.54" y="358.66" width="22.78" height="4.84" fill="#fddc98"/>
<rect x="149.32" y="358.66" width="22.78" height="4.84" fill="#fddc98"/>
<rect x="58.20" y="363.50" width="22.78" height="4.84" fill="#5b88c3"/>
<rect x="80.98" y="363.50" width="22.78" height="4.84" fill="#5b88c3"/>
<rect x="103.76" y="363.50" width="22.78" height="4.84" fill="#fbf8c0"/>
<rect x="126.54" y="363.50" width="22.78" height="4.84" fill="#f3905e"/>
<rect x="149.32" y="363.50" width="22.78" height="4.84" fill="#f3905e"/>
<rect x="58.20" y="368.34" width="22.78" height="4.84" fill="#5b88c3"/>
<rect x="80.98" y="368.34" width="22.78" height="4.84" fill="#5b88c3"/>
<rect x="103.76" y="368.34" width="22.78" height="4.84" fill="#d7eef0"/>
<rect x="126.54" y="368.34" width="22.78" height="4.84" fill="#d6362a"/>
<rect x="149.32" y="368.34" width="22.78" height="4.84" fill="#d6362a"/>
<rect x="58.20" y="373.18" width="22.78" height="4.84" fill="#5b88c3"/>
<rect x="80.98" y="373.18" width="22.78" height="4.84" fill="#5b88c3"/>
<rect x="103.76" y="373.18" width="22.78" height="4.84" fill="#d7eef0"/>
<rect x="126.54" y="373.18" width="22.78" height="4.84" fill="#ee6a45"/>
<rect x="149.32" y="373.18" width="22.78" height="4.84" fill="#ee6a45"/>
<rect x="58.20" y="378.02" width="22.78" height="4.84" fill="#79a9d3"/>
<rect x="80.98" y="378.02" width="22.78" height="4.84" fill="#79a9d3"/>
<rect x="103.76" y="378.02" width="22.78" height="4.84" fill="#d6362a"/>
<rect x="126.54" y="378.02" width="22.78" height="4.84" fill="#b51426"/>
<rect x="149.32" y="378.02" width="22.78" height="4.84" fill="#b51426"/>
<rect x="58.20" y="382.86" width="22.78" height="4.84" fill="#a9d4e6"/>
<rect x="80.98" y="382.86" width="22.78" height="4.84" fill="#79a9d3"/>
<rect x="103.76" y="382.86" width="22.78" height="4.84" fill="#d6362a"/>
<rect x="126.54" y="382.86" width="22.78" height="4.84" fill="#d6362a"/>
<rect x="149.32" y="382.86" width="22.78" height="4.84" fill="#d6362a"/>
<rect x="58.20" y="387.70" width="22.78" height="4.84" fill="#a9d4e6"/>
<rect x="80.98" y="387.70" width="22.78" height="4.84" fill="#fbf8c0"/>
<rect x="103.76" y="387.70" width="22.78" height="4.84" fill="#c2e2ec"/>
<rect x="126.54" y="387.70" width="22.78" height="4.84" fill="#4a76b6"/>
<rect x="149.32" y="387.70" width="22.78" height="4.84" fill="#79a9d3"/>
<rect x="58.20" y="392.54" width="22.78" height="4.84" fill="#d7eef0"/>
<rect x="80.98" y="392.54" width="22.78" height="4.84" fill="#fbf8c0"/>
<rect x="103.76" y="392.54" width="22.78" height="4.84" fill="#d7eef0"/>
<rect x="126.54" y="392.54" width="22.78" height="4.84" fill="#79a9d3"/>
<rect x="149.32" y="392.54" width="22.78" height="4.84" fill="#a9d4e6"/>
<rect x="58.20" y="397.38" width="22.78" height="4.84" fill="#fbc688"/>
<rect x="80.98" y="397.38" width="22.78" height="4.84" fill="#f3905e"/>
<rect x="103.76" y="397.38" width="22.78" height="4.84" fill="#4a76b6"/>
<rect x="126.54" y="397.38" width="22.78" height="4.84" fill="#4a76b6"/>
<rect x="149.32" y="397.38" width="22.78" height="4.84" fill="#4a76b6"/>
<rect x="58.20" y="402.22" width="22.78" height="4.84" fill="#ee6a45"/>
<rect x="80.98" y="402.22" width="22.78" height="4.84" fill="#ee6a45"/>
<rect x="103.76" y="402.22" width="22.78" height="4.84" fill="#fbc688"/>
<rect x="126.54" y="402.22" width="22.78" height="4.84" fill="#a9d4e6"/>
<rect x="149.32" y="402.22" width="22.78" height="4.84" fill="#79a9d3"/>
<rect x="58.20" y="407.06" width="22.78" height="4.84" fill="#b51426"/>
<rect x="80.98" y="407.06" width="22.78" height="4.84" fill="#b51426"/>
<rect x="103.76" y="407.06" width="22.78" height="4.84" fill="#a9d4e6"/>
<rect x="126.54" y="407.06" width="22.78" height="4.84" fill="#a9d4e6"/>
<rect x="149.32" y="407.06" width="22.78" height="4.84" fill="#a9d4e6"/>
<rect x="58.20" y="411.90" width="22.78" height="4.84" fill="#b51426"/>
<rect x="80.98" y="411.90" width="22.78" height="4.84" fill="#ee6a45"/>
<rect x="103.76" y="411.90" width="22.78" height="4.84" fill="#d6362a"/>
<rect x="126.54" y="411.90" width="22.78" height="4.84" fill="#fddc98"/>
<rect x="149.32" y="411.90" width="22.78" height="4.84" fill="#fbf8c0"/>
<line x1="58.2" y1="290.90" x2="172.10" y2="290.90" stroke="#7a7a70" stroke-opacity="0.75" stroke-width="0.55"/>
<line x1="58.2" y1="295.74" x2="172.10" y2="295.74" stroke="#7a7a70" stroke-opacity="0.75" stroke-width="0.55"/>
<line x1="58.2" y1="300.58" x2="172.10" y2="300.58" stroke="#7a7a70" stroke-opacity="0.75" stroke-width="0.55"/>
<line x1="58.2" y1="305.42" x2="172.10" y2="305.42" stroke="#7a7a70" stroke-opacity="0.75" stroke-width="0.55"/>
<line x1="58.2" y1="310.26" x2="172.10" y2="310.26" stroke="#7a7a70" stroke-opacity="0.75" stroke-width="0.55"/>
<line x1="58.2" y1="315.10" x2="172.10" y2="315.10" stroke="#7a7a70" stroke-opacity="0.75" stroke-width="0.55"/>
<line x1="58.2" y1="319.94" x2="172.10" y2="319.94" stroke="#7a7a70" stroke-opacity="0.75" stroke-width="0.55"/>
<line x1="58.2" y1="324.78" x2="172.10" y2="324.78" stroke="#7a7a70" stroke-opacity="0.75" stroke-width="0.55"/>
<line x1="58.2" y1="329.62" x2="172.10" y2="329.62" stroke="#7a7a70" stroke-opacity="0.75" stroke-width="0.55"/>
<line x1="58.2" y1="334.46" x2="172.10" y2="334.46" stroke="#7a7a70" stroke-opacity="0.75" stroke-width="0.55"/>
<line x1="58.2" y1="339.30" x2="172.10" y2="339.30" stroke="#7a7a70" stroke-opacity="0.75" stroke-width="0.55"/>
<line x1="58.2" y1="344.14" x2="172.10" y2="344.14" stroke="#7a7a70" stroke-opacity="0.75" stroke-width="0.55"/>
<line x1="58.2" y1="348.98" x2="172.10" y2="348.98" stroke="#7a7a70" stroke-opacity="0.75" stroke-width="0.55"/>
<line x1="58.2" y1="353.82" x2="172.10" y2="353.82" stroke="#7a7a70" stroke-opacity="0.75" stroke-width="0.55"/>
<line x1="58.2" y1="358.66" x2="172.10" y2="358.66" stroke="#7a7a70" stroke-opacity="0.75" stroke-width="0.55"/>
<line x1="58.2" y1="363.50" x2="172.10" y2="363.50" stroke="#7a7a70" stroke-opacity="0.75" stroke-width="0.55"/>
<line x1="58.2" y1="368.34" x2="172.10" y2="368.34" stroke="#7a7a70" stroke-opacity="0.75" stroke-width="0.55"/>
<line x1="58.2" y1="373.18" x2="172.10" y2="373.18" stroke="#7a7a70" stroke-opacity="0.75" stroke-width="0.55"/>
<line x1="58.2" y1="378.02" x2="172.10" y2="378.02" stroke="#7a7a70" stroke-opacity="0.75" stroke-width="0.55"/>
<line x1="58.2" y1="382.86" x2="172.10" y2="382.86" stroke="#7a7a70" stroke-opacity="0.75" stroke-width="0.55"/>
<line x1="58.2" y1="387.70" x2="172.10" y2="387.70" stroke="#7a7a70" stroke-opacity="0.75" stroke-width="0.55"/>
<line x1="58.2" y1="392.54" x2="172.10" y2="392.54" stroke="#7a7a70" stroke-opacity="0.75" stroke-width="0.55"/>
<line x1="58.2" y1="397.38" x2="172.10" y2="397.38" stroke="#7a7a70" stroke-opacity="0.75" stroke-width="0.55"/>
<line x1="58.2" y1="402.22" x2="172.10" y2="402.22" stroke="#7a7a70" stroke-opacity="0.75" stroke-width="0.55"/>
<line x1="58.2" y1="407.06" x2="172.10" y2="407.06" stroke="#7a7a70" stroke-opacity="0.75" stroke-width="0.55"/>
<line x1="58.2" y1="411.90" x2="172.10" y2="411.90" stroke="#7a7a70" stroke-opacity="0.75" stroke-width="0.55"/>
<line x1="58.2" y1="416.74" x2="172.10" y2="416.74" stroke="#7a7a70" stroke-opacity="0.75" stroke-width="0.55"/>
<line x1="58.20" y1="290.9" x2="58.20" y2="416.74" stroke="#666" stroke-opacity="0.7" stroke-width="0.6"/>
<line x1="80.98" y1="290.9" x2="80.98" y2="416.74" stroke="#666" stroke-opacity="0.7" stroke-width="0.6"/>
<line x1="103.76" y1="290.9" x2="103.76" y2="416.74" stroke="#666" stroke-opacity="0.7" stroke-width="0.6"/>
<line x1="126.54" y1="290.9" x2="126.54" y2="416.74" stroke="#666" stroke-opacity="0.7" stroke-width="0.6"/>
<line x1="149.32" y1="290.9" x2="149.32" y2="416.74" stroke="#666" stroke-opacity="0.7" stroke-width="0.6"/>
<line x1="172.10" y1="290.9" x2="172.10" y2="416.74" stroke="#666" stroke-opacity="0.7" stroke-width="0.6"/>
<circle cx="115.15" cy="293.32" r="0.75" fill="#3a2a20"/>
<circle cx="137.93" cy="298.16" r="0.75" fill="#3a2a20"/>
<circle cx="115.15" cy="303.00" r="0.75" fill="#3a2a20"/>
<circle cx="160.71" cy="307.84" r="0.75" fill="#3a2a20"/>
<circle cx="69.59" cy="312.68" r="0.75" fill="#3a2a20"/>
<circle cx="69.59" cy="317.52" r="0.75" fill="#3a2a20"/>
<circle cx="69.59" cy="322.36" r="0.75" fill="#3a2a20"/>
<circle cx="160.71" cy="322.36" r="0.75" fill="#3a2a20"/>
<circle cx="115.15" cy="327.20" r="0.75" fill="#3a2a20"/>
<circle cx="137.93" cy="332.04" r="0.75" fill="#3a2a20"/>
<circle cx="160.71" cy="332.04" r="0.75" fill="#3a2a20"/>
<circle cx="69.59" cy="336.88" r="0.75" fill="#3a2a20"/>
<circle cx="92.37" cy="336.88" r="0.75" fill="#3a2a20"/>
<circle cx="69.59" cy="341.72" r="0.75" fill="#3a2a20"/>
<circle cx="92.37" cy="341.72" r="0.75" fill="#3a2a20"/>
<circle cx="69.59" cy="346.56" r="0.75" fill="#3a2a20"/>
<circle cx="92.37" cy="346.56" r="0.75" fill="#3a2a20"/>
<circle cx="115.15" cy="346.56" r="0.75" fill="#3a2a20"/>
<circle cx="92.37" cy="351.40" r="0.75" fill="#3a2a20"/>
<circle cx="115.15" cy="351.40" r="0.75" fill="#3a2a20"/>
<circle cx="160.71" cy="351.40" r="0.75" fill="#3a2a20"/>
<circle cx="115.15" cy="356.24" r="0.75" fill="#3a2a20"/>
<circle cx="137.93" cy="356.24" r="0.75" fill="#3a2a20"/>
<circle cx="115.15" cy="361.08" r="0.75" fill="#3a2a20"/>
<circle cx="137.93" cy="361.08" r="0.75" fill="#3a2a20"/>
<circle cx="160.71" cy="361.08" r="0.75" fill="#3a2a20"/>
<circle cx="137.93" cy="365.92" r="0.75" fill="#3a2a20"/>
<circle cx="160.71" cy="365.92" r="0.75" fill="#3a2a20"/>
<circle cx="137.93" cy="370.76" r="0.75" fill="#3a2a20"/>
<circle cx="160.71" cy="370.76" r="0.75" fill="#3a2a20"/>
<circle cx="137.93" cy="375.60" r="0.75" fill="#3a2a20"/>
<circle cx="160.71" cy="375.60" r="0.75" fill="#3a2a20"/>
<circle cx="115.15" cy="380.44" r="0.75" fill="#3a2a20"/>
<circle cx="137.93" cy="380.44" r="0.75" fill="#3a2a20"/>
<circle cx="160.71" cy="380.44" r="0.75" fill="#3a2a20"/>
<circle cx="115.15" cy="385.28" r="0.75" fill="#3a2a20"/>
<circle cx="137.93" cy="385.28" r="0.75" fill="#3a2a20"/>
<circle cx="160.71" cy="385.28" r="0.75" fill="#3a2a20"/>
<circle cx="92.37" cy="390.12" r="0.75" fill="#3a2a20"/>
<circle cx="92.37" cy="394.96" r="0.75" fill="#3a2a20"/>
<circle cx="69.59" cy="399.80" r="0.75" fill="#3a2a20"/>
<circle cx="92.37" cy="399.80" r="0.75" fill="#3a2a20"/>
<circle cx="69.59" cy="404.64" r="0.75" fill="#3a2a20"/>
<circle cx="92.37" cy="404.64" r="0.75" fill="#3a2a20"/>
<circle cx="115.15" cy="414.32" r="0.75" fill="#3a2a20"/>
<circle cx="137.93" cy="414.32" r="0.75" fill="#3a2a20"/>
<rect x="51.9" y="290.90" width="5.2" height="4.84" fill="#5b79c9"/>
<line x1="51.9" y1="290.90" x2="57.1" y2="290.90" stroke="#fff" stroke-opacity="0.35" stroke-width="0.4"/>
<rect x="51.9" y="295.74" width="5.2" height="4.84" fill="#5b79c9"/>
<line x1="51.9" y1="295.74" x2="57.1" y2="295.74" stroke="#fff" stroke-opacity="0.35" stroke-width="0.4"/>
<rect x="51.9" y="300.58" width="5.2" height="4.84" fill="#5b79c9"/>
<line x1="51.9" y1="300.58" x2="57.1" y2="300.58" stroke="#fff" stroke-opacity="0.35" stroke-width="0.4"/>
<rect x="51.9" y="305.42" width="5.2" height="4.84" fill="#5b79c9"/>
<line x1="51.9" y1="305.42" x2="57.1" y2="305.42" stroke="#fff" stroke-opacity="0.35" stroke-width="0.4"/>
<rect x="51.9" y="310.26" width="5.2" height="4.84" fill="#ee6a6a"/>
<line x1="51.9" y1="310.26" x2="57.1" y2="310.26" stroke="#fff" stroke-opacity="0.35" stroke-width="0.4"/>
<rect x="51.9" y="315.10" width="5.2" height="4.84" fill="#ee6a6a"/>
<line x1="51.9" y1="315.10" x2="57.1" y2="315.10" stroke="#fff" stroke-opacity="0.35" stroke-width="0.4"/>
<rect x="51.9" y="319.94" width="5.2" height="4.84" fill="#ee6a6a"/>
<line x1="51.9" y1="319.94" x2="57.1" y2="319.94" stroke="#fff" stroke-opacity="0.35" stroke-width="0.4"/>
<rect x="51.9" y="324.78" width="5.2" height="4.84" fill="#ee6a6a"/>
<line x1="51.9" y1="324.78" x2="57.1" y2="324.78" stroke="#fff" stroke-opacity="0.35" stroke-width="0.4"/>
<rect x="51.9" y="329.62" width="5.2" height="4.84" fill="#ee6a6a"/>
<line x1="51.9" y1="329.62" x2="57.1" y2="329.62" stroke="#fff" stroke-opacity="0.35" stroke-width="0.4"/>
<rect x="51.9" y="334.46" width="5.2" height="4.84" fill="#ee6a6a"/>
<line x1="51.9" y1="334.46" x2="57.1" y2="334.46" stroke="#fff" stroke-opacity="0.35" stroke-width="0.4"/>
<rect x="51.9" y="339.30" width="5.2" height="4.84" fill="#ee6a6a"/>
<line x1="51.9" y1="339.30" x2="57.1" y2="339.30" stroke="#fff" stroke-opacity="0.35" stroke-width="0.4"/>
<rect x="51.9" y="344.14" width="5.2" height="4.84" fill="#ee6a6a"/>
<line x1="51.9" y1="344.14" x2="57.1" y2="344.14" stroke="#fff" stroke-opacity="0.35" stroke-width="0.4"/>
<rect x="51.9" y="348.98" width="5.2" height="4.84" fill="#ee6a6a"/>
<line x1="51.9" y1="348.98" x2="57.1" y2="348.98" stroke="#fff" stroke-opacity="0.35" stroke-width="0.4"/>
<rect x="51.9" y="353.82" width="5.2" height="4.84" fill="#ee6a6a"/>
<line x1="51.9" y1="353.82" x2="57.1" y2="353.82" stroke="#fff" stroke-opacity="0.35" stroke-width="0.4"/>
<rect x="51.9" y="358.66" width="5.2" height="4.84" fill="#ee6a6a"/>
<line x1="51.9" y1="358.66" x2="57.1" y2="358.66" stroke="#fff" stroke-opacity="0.35" stroke-width="0.4"/>
<rect x="51.9" y="363.50" width="5.2" height="4.84" fill="#ee6a6a"/>
<line x1="51.9" y1="363.50" x2="57.1" y2="363.50" stroke="#fff" stroke-opacity="0.35" stroke-width="0.4"/>
<rect x="51.9" y="368.34" width="5.2" height="4.84" fill="#ee6a6a"/>
<line x1="51.9" y1="368.34" x2="57.1" y2="368.34" stroke="#fff" stroke-opacity="0.35" stroke-width="0.4"/>
<rect x="51.9" y="373.18" width="5.2" height="4.84" fill="#ee6a6a"/>
<line x1="51.9" y1="373.18" x2="57.1" y2="373.18" stroke="#fff" stroke-opacity="0.35" stroke-width="0.4"/>
<rect x="51.9" y="378.02" width="5.2" height="4.84" fill="#ee6a6a"/>
<line x1="51.9" y1="378.02" x2="57.1" y2="378.02" stroke="#fff" stroke-opacity="0.35" stroke-width="0.4"/>
<rect x="51.9" y="382.86" width="5.2" height="4.84" fill="#ee6a6a"/>
<line x1="51.9" y1="382.86" x2="57.1" y2="382.86" stroke="#fff" stroke-opacity="0.35" stroke-width="0.4"/>
<rect x="51.9" y="387.70" width="5.2" height="4.84" fill="#22aa44"/>
<line x1="51.9" y1="387.70" x2="57.1" y2="387.70" stroke="#fff" stroke-opacity="0.35" stroke-width="0.4"/>
<rect x="51.9" y="392.54" width="5.2" height="4.84" fill="#22aa44"/>
<line x1="51.9" y1="392.54" x2="57.1" y2="392.54" stroke="#fff" stroke-opacity="0.35" stroke-width="0.4"/>
<rect x="51.9" y="397.38" width="5.2" height="4.84" fill="#22aa44"/>
<line x1="51.9" y1="397.38" x2="57.1" y2="397.38" stroke="#fff" stroke-opacity="0.35" stroke-width="0.4"/>
<rect x="51.9" y="402.22" width="5.2" height="4.84" fill="#22aa44"/>
<line x1="51.9" y1="402.22" x2="57.1" y2="402.22" stroke="#fff" stroke-opacity="0.35" stroke-width="0.4"/>
<rect x="51.9" y="407.06" width="5.2" height="4.84" fill="#22aa44"/>
<line x1="51.9" y1="407.06" x2="57.1" y2="407.06" stroke="#fff" stroke-opacity="0.35" stroke-width="0.4"/>
<rect x="51.9" y="411.90" width="5.2" height="4.84" fill="#22aa44"/>
<line x1="51.9" y1="411.90" x2="57.1" y2="411.90" stroke="#fff" stroke-opacity="0.35" stroke-width="0.4"/>
<path d="M40.80 293.32L49.50 293.32 M40.80 298.16L49.50 298.16 M40.80 293.32L40.80 298.16 M35.20 295.74L40.80 295.74 M35.20 303.00L49.50 303.00 M35.20 295.74L35.20 303.00 M25.70 299.37L35.20 299.37 M25.70 307.84L49.50 307.84 M25.70 299.37L25.70 307.84 M48.60 312.68L49.50 312.68 M48.60 317.52L49.50 317.52 M48.60 312.68L48.60 317.52 M44.20 315.10L48.60 315.10 M44.20 322.36L49.50 322.36 M44.20 315.10L44.20 322.36 M43.00 318.73L44.20 318.73 M43.00 327.20L49.50 327.20 M43.00 318.73L43.00 327.20 M41.30 322.96L43.00 322.96 M41.30 332.04L49.50 332.04 M41.30 322.96L41.30 332.04 M48.10 336.88L49.50 336.88 M48.10 341.72L49.50 341.72 M48.10 336.88L48.10 341.72 M44.40 339.30L48.10 339.30 M44.40 346.56L49.50 346.56 M44.40 339.30L44.40 346.56 M46.90 351.40L49.50 351.40 M46.90 356.24L49.50 356.24 M46.90 351.40L46.90 356.24 M41.25 342.93L44.40 342.93 M41.25 353.82L46.90 353.82 M41.25 342.93L41.25 353.82 M38.75 327.50L41.30 327.50 M38.75 348.38L41.25 348.38 M38.75 327.50L38.75 348.38 M47.50 361.08L49.50 361.08 M47.50 365.92L49.50 365.92 M47.50 361.08L47.50 365.92 M48.10 370.76L49.50 370.76 M48.10 375.60L49.50 375.60 M48.10 370.76L48.10 375.60 M41.90 363.50L47.50 363.50 M41.90 373.18L48.10 373.18 M41.90 363.50L41.90 373.18 M48.10 380.44L49.50 380.44 M48.10 385.28L49.50 385.28 M48.10 380.44L48.10 385.28 M39.40 368.34L41.90 368.34 M39.40 382.86L48.10 382.86 M39.40 368.34L39.40 382.86 M33.10 337.94L38.75 337.94 M33.10 375.60L39.40 375.60 M33.10 337.94L33.10 375.60 M20.40 303.61L25.70 303.61 M20.40 356.77L33.10 356.77 M20.40 303.61L20.40 356.77 M42.30 390.12L49.50 390.12 M42.30 394.96L49.50 394.96 M42.30 390.12L42.30 394.96 M35.00 392.54L42.30 392.54 M35.00 399.80L49.50 399.80 M35.00 392.54L35.00 399.80 M40.50 404.64L49.50 404.64 M40.50 409.48L49.50 409.48 M40.50 404.64L40.50 409.48 M36.90 407.06L40.50 407.06 M36.90 414.32L49.50 414.32 M36.90 407.06L36.90 414.32 M23.20 396.17L35.00 396.17 M23.20 410.69L36.90 410.69 M23.20 396.17L23.20 410.69 M13.20 330.19L20.40 330.19 M13.20 403.43L23.20 403.43 M13.20 330.19L13.20 403.43" stroke="#555" stroke-width="0.6" fill="none"/>
<text x="71.49" y="419.8" font-size="6.0" text-anchor="end" fill="#222" stroke="#222" stroke-width="0.1" transform="rotate(-90 71.49 419.8)">B</text>
<text x="94.27" y="419.8" font-size="6.0" text-anchor="end" fill="#222" stroke="#222" stroke-width="0.1" transform="rotate(-90 94.27 419.8)">imB</text>
<text x="117.05" y="419.8" font-size="6.0" text-anchor="end" fill="#222" stroke="#222" stroke-width="0.1" transform="rotate(-90 117.05 419.8)">ILC3</text>
<text x="139.83" y="419.8" font-size="6.0" text-anchor="end" fill="#222" stroke="#222" stroke-width="0.1" transform="rotate(-90 139.83 419.8)">NK3</text>
<text x="162.61" y="419.8" font-size="6.0" text-anchor="end" fill="#222" stroke="#222" stroke-width="0.1" transform="rotate(-90 162.61 419.8)">NK4</text>
<text x="178.9" y="328.2" font-size="6.2" text-anchor="start" fill="#222" stroke="#222" stroke-width="0.1">Percentage</text>
<text x="178.9" y="335.5" font-size="6.2" text-anchor="start" fill="#222" stroke="#222" stroke-width="0.1">Contribution</text>
<rect x="179.4" y="343.6" width="1.8" height="34.8" fill="url(#gF)"/>
<text x="184.5" y="345.20000000000005" font-size="6" text-anchor="start" fill="#222" stroke="#222" stroke-width="0.1">100%</text>
<text x="184.5" y="351.70000000000005" font-size="6" text-anchor="start" fill="#222" stroke="#222" stroke-width="0.1">10%</text>
<text x="184.5" y="357.1" font-size="6" text-anchor="start" fill="#222" stroke="#222" stroke-width="0.1">1%</text>
<text x="184.5" y="363.1" font-size="6" text-anchor="start" fill="#222" stroke="#222" stroke-width="0.1">0.1%</text>
<text x="184.5" y="372.5" font-size="6" text-anchor="start" fill="#222" stroke="#222" stroke-width="0.1">0.0025%</text>
<text x="184.5" y="380.1" font-size="6" text-anchor="start" fill="#222" stroke="#222" stroke-width="0.1">0%</text>
<text x="258.8" y="295.9" font-size="6.2" text-anchor="start" fill="#222" stroke="#222" stroke-width="0.1">Bias plot of NK/ILC3 subsets</text>
<text x="293.3" y="309.6" font-size="6.1" text-anchor="middle" fill="#222" stroke="#222" stroke-width="0.1">ILC3</text>
<text x="231" y="415.8" font-size="6.1" text-anchor="middle" fill="#222" stroke="#222" stroke-width="0.1">NK3</text>
<text x="359.1" y="407.9" font-size="6.2" text-anchor="middle" fill="#222" stroke="#222" stroke-width="0.1">NK4</text>
<circle cx="294.5" cy="319.8" r="1.0" fill="#f2802a"/>
<circle cx="293.4" cy="323.6" r="0.9" fill="#a0266c"/>
<circle cx="290.3" cy="325.3" r="2.0" fill="#f2802a"/>
<circle cx="289.3" cy="327" r="1.5" fill="#f2802a"/>
<circle cx="288.2" cy="329.1" r="1.6" fill="#d44a42"/>
<circle cx="291.6" cy="331.6" r="2.2" fill="#f9c62d"/>
<circle cx="285.6" cy="334.6" r="2.3" fill="#d44a42"/>
<circle cx="283.2" cy="338.6" r="1.6" fill="#f9c62d"/>
<circle cx="285.2" cy="342.7" r="1.5" fill="#f9c62d"/>
<circle cx="289.3" cy="337.3" r="1.3" fill="#a0266c"/>
<circle cx="292" cy="337.3" r="1.3" fill="#8a1c4a"/>
<circle cx="289.3" cy="340.3" r="1.8" fill="#a0266c"/>
<circle cx="298.2" cy="339.3" r="1.2" fill="#f2802a"/>
<circle cx="299.8" cy="340" r="1.0" fill="#f2802a"/>
<circle cx="303.7" cy="341.4" r="1.2" fill="#57106e"/>
<circle cx="305" cy="338.6" r="0.9" fill="#d44a42"/>
<circle cx="294.8" cy="345.7" r="1.1" fill="#0d0829"/>
<circle cx="288.4" cy="346.8" r="1.3" fill="#d44a42"/>
<circle cx="288" cy="349.6" r="1.5" fill="#f2802a"/>
<circle cx="288.6" cy="351" r="1.3" fill="#d44a42"/>
<circle cx="287.3" cy="353.4" r="1.2" fill="#d44a42"/>
<circle cx="295.2" cy="351.6" r="1.2" fill="#a0266c"/>
<circle cx="304.3" cy="350.6" r="0.9" fill="#d44a42"/>
<circle cx="294.1" cy="355.4" r="1.4" fill="#57106e"/>
<circle cx="296.6" cy="357" r="1.3" fill="#a0266c"/>
<circle cx="283.5" cy="357" r="0.8" fill="#d44a42"/>
<circle cx="290" cy="360.7" r="1.3" fill="#0d0829"/>
<circle cx="289.7" cy="363.2" r="1.0" fill="#0d0829"/>
<circle cx="276.4" cy="366.6" r="0.8" fill="#f2802a"/>
<circle cx="298.2" cy="368" r="1.0" fill="#0d0829"/>
<circle cx="294.8" cy="368.7" r="1.0" fill="#0d0829"/>
<circle cx="316" cy="361.8" r="0.9" fill="#57106e"/>
<circle cx="307.1" cy="369.1" r="1.0" fill="#8a1c4a"/>
<circle cx="300.7" cy="372.9" r="1.5" fill="#0d0829"/>
<circle cx="299.3" cy="377.3" r="1.2" fill="#a0266c"/>
<circle cx="295.9" cy="379.7" r="1.0" fill="#d44a42"/>
<circle cx="311.6" cy="378.6" r="1.2" fill="#c86030"/>
<circle cx="283.9" cy="381.1" r="1.0" fill="#a0266c"/>
<circle cx="283" cy="382.7" r="1.0" fill="#a0266c"/>
<circle cx="293.9" cy="384.1" r="1.0" fill="#57106e"/>
<circle cx="280.2" cy="390.9" r="1.6" fill="#e06a7a"/>
<circle cx="285.7" cy="390.2" r="4.6" fill="#8b1a7a"/>
<circle cx="264.8" cy="389.3" r="0.9" fill="#57106e"/>
<circle cx="293.9" cy="392.3" r="1.0" fill="#57106e"/>
<circle cx="263.9" cy="396.7" r="0.9" fill="#57106e"/>
<circle cx="301.4" cy="393" r="1.1" fill="#f3eab0"/>
<circle cx="279.6" cy="400.7" r="1.1" fill="#f2e88a"/>
<circle cx="273.4" cy="403.7" r="1.6" fill="#ece27a"/>
<circle cx="276.2" cy="404.2" r="1.1" fill="#eee690"/>
<circle cx="282.3" cy="405.6" r="0.9" fill="#2a2a7a"/>
<circle cx="291" cy="405.6" r="0.8" fill="#3a1a6a"/>
<circle cx="309" cy="405.6" r="0.9" fill="#5a2a7a"/>
<circle cx="301.4" cy="402.5" r="1.4" fill="#d07040"/>
<circle cx="313.4" cy="401.6" r="1.2" fill="#f2802a"/>
<circle cx="254.0" cy="385.8" r="1.4" fill="#f2c070"/>
<circle cx="292.5" cy="318.0" r="1.0" fill="#f2802a"/>
<circle cx="296.5" cy="334.5" r="1.2" fill="#f0d070"/>
<circle cx="300.5" cy="344.5" r="0.9" fill="#e0a070"/>
<circle cx="287" cy="344" r="0.9" fill="#57106e"/>
<path d="M293.3 313.8L240.3 406.2L346.2 406.2Z" fill="none" stroke="#111" stroke-width="1.1" stroke-linejoin="miter"/>
<line x1="240.3" y1="406.2" x2="238.90" y2="408.80" stroke="#111" stroke-width="0.9"/>
<line x1="335.62" y1="387.72" x2="338.42" y2="387.72" stroke="#111" stroke-width="0.8"/>
<text x="343.02" y="390.12" font-size="6.3" text-anchor="start" fill="#222" stroke="#222" stroke-width="0.1">20</text>
<line x1="282.70" y1="332.28" x2="280.80" y2="330.78" stroke="#111" stroke-width="0.8"/>
<text x="278.3" y="327.78" font-size="6.3" text-anchor="end" fill="#222" stroke="#222" stroke-width="0.1" transform="rotate(60 278.3 327.78)">20</text>
<line x1="261.48" y1="406.20" x2="260.38" y2="408.60" stroke="#111" stroke-width="0.8"/>
<text x="260.68" y="413.5" font-size="6.3" text-anchor="end" fill="#222" stroke="#222" stroke-width="0.1" transform="rotate(-60 260.68 413.5)">20</text>
<line x1="325.04" y1="369.24" x2="327.84" y2="369.24" stroke="#111" stroke-width="0.8"/>
<text x="332.44" y="371.64" font-size="6.3" text-anchor="start" fill="#222" stroke="#222" stroke-width="0.1">40</text>
<line x1="272.10" y1="350.76" x2="270.20" y2="349.26" stroke="#111" stroke-width="0.8"/>
<text x="267.7" y="346.26" font-size="6.3" text-anchor="end" fill="#222" stroke="#222" stroke-width="0.1" transform="rotate(60 267.7 346.26)">40</text>
<line x1="282.66" y1="406.20" x2="281.56" y2="408.60" stroke="#111" stroke-width="0.8"/>
<text x="281.86" y="413.5" font-size="6.3" text-anchor="end" fill="#222" stroke="#222" stroke-width="0.1" transform="rotate(-60 281.86 413.5)">40</text>
<line x1="314.46" y1="350.76" x2="317.26" y2="350.76" stroke="#111" stroke-width="0.8"/>
<text x="321.86" y="353.16" font-size="6.3" text-anchor="start" fill="#222" stroke="#222" stroke-width="0.1">60</text>
<line x1="261.50" y1="369.24" x2="259.60" y2="367.74" stroke="#111" stroke-width="0.8"/>
<text x="257.1" y="364.74" font-size="6.3" text-anchor="end" fill="#222" stroke="#222" stroke-width="0.1" transform="rotate(60 257.1 364.74)">60</text>
<line x1="303.84" y1="406.20" x2="302.74" y2="408.60" stroke="#111" stroke-width="0.8"/>
<text x="303.04" y="413.5" font-size="6.3" text-anchor="end" fill="#222" stroke="#222" stroke-width="0.1" transform="rotate(-60 303.04 413.5)">60</text>
<line x1="303.88" y1="332.28" x2="306.68" y2="332.28" stroke="#111" stroke-width="0.8"/>
<text x="311.28" y="334.68" font-size="6.3" text-anchor="start" fill="#222" stroke="#222" stroke-width="0.1">80</text>
<line x1="250.90" y1="387.72" x2="249.00" y2="386.22" stroke="#111" stroke-width="0.8"/>
<text x="246.5" y="383.22" font-size="6.3" text-anchor="end" fill="#222" stroke="#222" stroke-width="0.1" transform="rotate(60 246.5 383.22)">80</text>
<line x1="325.02" y1="406.20" x2="323.92" y2="408.60" stroke="#111" stroke-width="0.8"/>
<text x="324.22" y="413.5" font-size="6.3" text-anchor="end" fill="#222" stroke="#222" stroke-width="0.1" transform="rotate(-60 324.22 413.5)">80</text>
<line x1="293.30" y1="313.80" x2="296.10" y2="313.80" stroke="#111" stroke-width="0.8"/>
<text x="300.7" y="316.2" font-size="6.3" text-anchor="start" fill="#222" stroke="#222" stroke-width="0.1">100</text>
<line x1="240.30" y1="406.20" x2="238.40" y2="404.70" stroke="#111" stroke-width="0.8"/>
<text x="235.9" y="401.7" font-size="6.3" text-anchor="end" fill="#222" stroke="#222" stroke-width="0.1" transform="rotate(60 235.9 401.7)">100</text>
<line x1="346.20" y1="406.20" x2="345.10" y2="408.60" stroke="#111" stroke-width="0.8"/>
<text x="345.4" y="413.5" font-size="6.3" text-anchor="end" fill="#222" stroke="#222" stroke-width="0.1" transform="rotate(-60 345.4 413.5)">100</text>
<text x="378" y="338.3" font-size="6" text-anchor="start" fill="#222" stroke="#222" stroke-width="0.1">clone_size</text>
<circle cx="382.5" cy="345.50" r="2.0" fill="#111"/>
<text x="390.1" y="347.6" font-size="6" text-anchor="start" fill="#222" stroke="#222" stroke-width="0.1">0.05</text>
<circle cx="382.5" cy="353.90" r="2.4" fill="#111"/>
<text x="390.1" y="356.0" font-size="6" text-anchor="start" fill="#222" stroke="#222" stroke-width="0.1">0.10</text>
<circle cx="382.5" cy="363.00" r="2.8" fill="#111"/>
<text x="390.1" y="365.1" font-size="6" text-anchor="start" fill="#222" stroke="#222" stroke-width="0.1">0.15</text>
<circle cx="382.5" cy="373.00" r="3.15" fill="#111"/>
<text x="390.1" y="375.1" font-size="6" text-anchor="start" fill="#222" stroke="#222" stroke-width="0.1">0.20</text>
<circle cx="382.5" cy="383.70" r="3.5" fill="#111"/>
<text x="390.1" y="385.8" font-size="6" text-anchor="start" fill="#222" stroke="#222" stroke-width="0.1">0.25</text>
</svg></body></html>
